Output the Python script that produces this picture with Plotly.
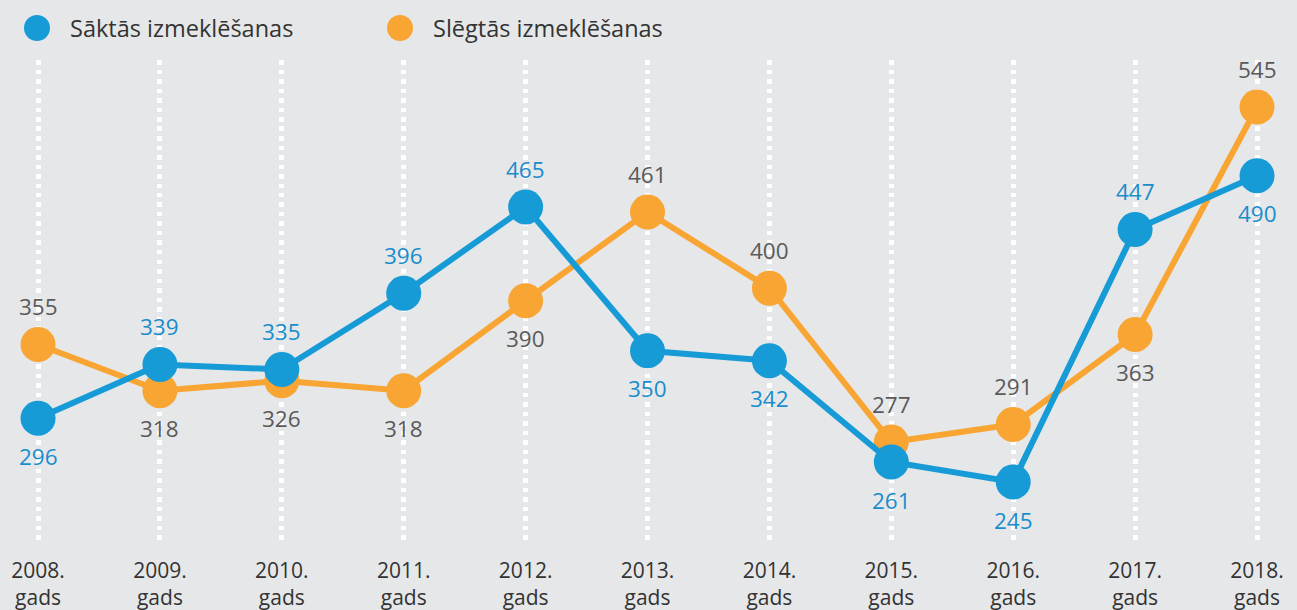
import plotly.graph_objects as go

years = [2008, 2009, 2010, 2011, 2012, 2013, 2014, 2015, 2016, 2017, 2018]
tick_labels = [f"{y}.<br>gads" for y in years]
started = [296, 339, 335, 396, 465, 350, 342, 261, 245, 447, 490]
closed = [355, 318, 326, 318, 390, 461, 400, 277, 291, 363, 545]
started_pos = ["below", "above", "above", "above", "above", "below", "below", "below", "below", "above", "below"]
closed_pos = ["above", "below", "below", "below", "below", "above", "above", "above", "above", "below", "above"]
series_names = ["Sāktās izmeklēšanas", "Slēgtās izmeklēšanas"]

BLUE = "#169bd7"
ORANGE = "#f9a533"
BG = "#e6e7e9"
FONT = "Open Sans"

fig = go.Figure()
fig.add_trace(go.Scatter(x=years, y=closed, mode="lines+markers",
                         line=dict(color=ORANGE, width=6),
                         marker=dict(color=ORANGE, size=35),
                         name=series_names[1], showlegend=False))
fig.add_trace(go.Scatter(x=years, y=started, mode="lines+markers",
                         line=dict(color=BLUE, width=6),
                         marker=dict(color=BLUE, size=35),
                         name=series_names[0], showlegend=False))

for x, v, p in zip(years, started, started_pos):
    fig.add_annotation(x=x, y=v, text=str(v), showarrow=False,
                       yshift=38 if p == "above" else -38,
                       font=dict(family=FONT, size=22.5, color="#1a8dcc"))
for x, v, p in zip(years, closed, closed_pos):
    fig.add_annotation(x=x, y=v, text=str(v), showarrow=False,
                       yshift=38 if p == "above" else -38,
                       font=dict(family=FONT, size=22.5, color="#5a5a5a"))

# custom legend
leg = [(37, series_names[0], BLUE), (400, series_names[1], ORANGE)]
W = 1297
for cx, name, col in leg:
    fig.add_shape(type="circle", xref="paper", yref="paper",
                  xsizemode="pixel", ysizemode="pixel",
                  xanchor=cx / W, yanchor=1 + 32 / 480,
                  x0=-13, x1=13, y0=-13, y1=13,
                  fillcolor=col, line=dict(width=0))
    fig.add_annotation(xref="paper", yref="paper", x=(cx + 31) / W, y=1 + 32 / 480,
                       xanchor="left", yanchor="middle", text=name, showarrow=False,
                       font=dict(family=FONT, size=23.5, color="#333333"))

fig.update_layout(
    width=1297, height=610,
    margin=dict(l=0, r=0, t=60, b=70),
    paper_bgcolor=BG, plot_bgcolor=BG,
    xaxis=dict(range=[2007.688, 2018.328], tickvals=years, ticktext=tick_labels,
               showgrid=True, gridcolor="white", gridwidth=4.5, griddash="4.5px,5px",
               zeroline=False, showline=False, ticks="", ticklabelstandoff=16,
               tickfont=dict(family=FONT, size=21, color="#333333")),
    yaxis=dict(range=[198.6, 582.6], showgrid=False, zeroline=False,
               showticklabels=False, showline=False),
)

fig.write_html("out.html", config={"displayModeBar": False},
               post_script="document.body.style.margin='0';document.body.style.background='%s';" % BG)
